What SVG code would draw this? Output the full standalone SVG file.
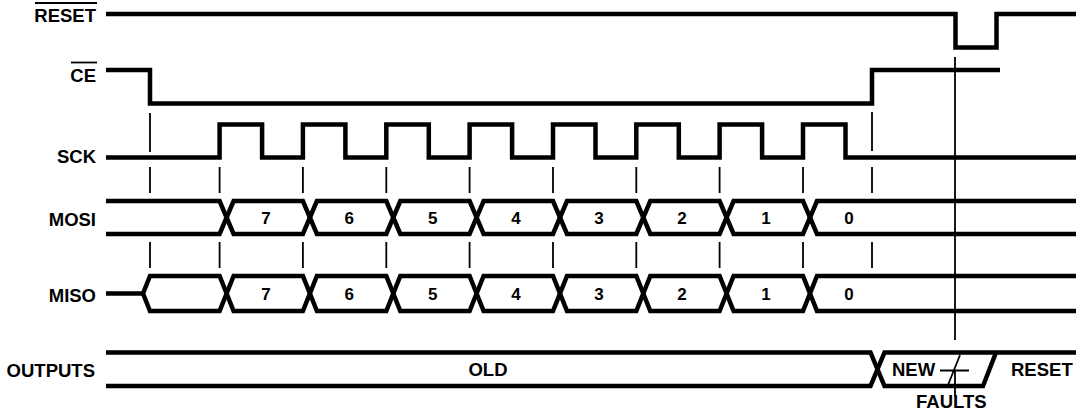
<svg xmlns="http://www.w3.org/2000/svg" width="1076" height="414" viewBox="0 0 1076 414">
<style>
.sig{fill:none;stroke:#000;stroke-width:4.5;stroke-linejoin:miter;stroke-miterlimit:10}
.thin{fill:none;stroke:#000;stroke-width:1.8}
.lbl{font-family:"Liberation Sans",Arial,Helvetica,sans-serif;font-weight:bold;font-size:18.5px;fill:#000}
.end{text-anchor:end}
.mid{text-anchor:middle}
.dig{font-family:"Liberation Sans",Arial,Helvetica,sans-serif;font-weight:bold;font-size:17px;fill:#000;text-anchor:middle}
</style>
<rect width="1076" height="414" fill="#fff"/>
<g id="connectors">
<path class="thin" d="M150,113V152M150,167V193M150,242V268"/>
<path class="thin" d="M219.6,167V193M219.6,242V268M302.9,167V193M302.9,242V268M386.3,167V193M386.3,242V268M469.6,167V193M469.6,242V268M553,167V193M553,242V268M636.3,167V193M636.3,242V268M719.6,167V193M719.6,242V268M803,167V193M803,242V268"/>
<path class="thin" d="M872,112V151M872,167V193M872,242V268"/>
<path class="thin" d="M955,57V340M955,371V396"/>
</g>
<g id="reset">
<text class="lbl end" x="96" y="22">RESET</text>
<line class="thin" x1="35" y1="3" x2="97" y2="3" stroke-width="1.6"/>
<path class="sig" d="M106,14H955.5V47.5H996.5V14H1076"/>
</g>
<g id="ce">
<text class="lbl end" x="96" y="82">CE</text>
<line class="thin" x1="71" y1="62.5" x2="97" y2="62.5" stroke-width="1.6"/>
<path class="sig" d="M106,70H150V103.5H872V70H1000"/>
</g>
<g id="sck">
<text class="lbl end" x="96" y="163">SCK</text>
<path class="sig" d="M106,157.5H219.6V124.5H262.1V157.5H302.9V124.5H345.4V157.5H386.3V124.5H428.8V157.5H469.6V124.5H512.1V157.5H553V124.5H595.5V157.5H636.3V124.5H678.8V157.5H719.6V124.5H762.1V157.5H803V124.5H845.5V157.5H1076"/>
</g>
<g id="mosi">
<text class="lbl end" x="96" y="225.5">MOSI</text>
<path class="sig" d="M106,201H219.6L233.6,234H302.9L316.9,201H386.3L400.3,234H469.6L483.6,201H553L567,234H636.3L650.3,201H719.6L733.6,234H803L817,201H1076"/>
<path class="sig" d="M106,234H219.6L233.6,201H302.9L316.9,234H386.3L400.3,201H469.6L483.6,234H553L567,201H636.3L650.3,234H719.6L733.6,201H803L817,234H1076"/>
<text class="dig" x="266" y="224">7</text>
<text class="dig" x="349.3" y="224">6</text>
<text class="dig" x="432.7" y="224">5</text>
<text class="dig" x="516" y="224">4</text>
<text class="dig" x="599" y="224">3</text>
<text class="dig" x="682" y="224">2</text>
<text class="dig" x="766" y="224">1</text>
<text class="dig" x="849" y="224">0</text>
</g>
<g id="miso">
<text class="lbl end" x="96" y="301.5">MISO</text>
<path class="sig" d="M106,293.5H143L150,276H219.6L233.6,311H302.9L316.9,276H386.3L400.3,311H469.6L483.6,276H553L567,311H636.3L650.3,276H719.6L733.6,311H803L817,276H1076"/>
<path class="sig" d="M143,293.5L150,311H219.6L233.6,276H302.9L316.9,311H386.3L400.3,276H469.6L483.6,311H553L567,276H636.3L650.3,311H719.6L733.6,276H803L817,311H1076"/>
<text class="dig" x="266" y="300">7</text>
<text class="dig" x="349.3" y="300">6</text>
<text class="dig" x="432.7" y="300">5</text>
<text class="dig" x="516" y="300">4</text>
<text class="dig" x="599" y="300">3</text>
<text class="dig" x="682" y="300">2</text>
<text class="dig" x="766" y="300">1</text>
<text class="dig" x="849" y="300">0</text>
</g>
<g id="outputs">
<text class="lbl end" x="95" y="377">OUTPUTS</text>
<path class="sig" d="M106,352.5H870.5L884.5,386H983L996,352.5"/>
<path class="sig" d="M106,386H870.5L884.5,352.5H1076"/>
<text class="lbl mid" x="488" y="376">OLD</text>
<text class="lbl" x="892" y="375.5">NEW</text>
<text class="lbl" x="1011" y="375.5">RESET</text>
<text class="lbl" x="916" y="408">FAULTS</text>
<path class="thin" d="M940,370.5H969M948,385L960,355"/>
</g>
</svg>
